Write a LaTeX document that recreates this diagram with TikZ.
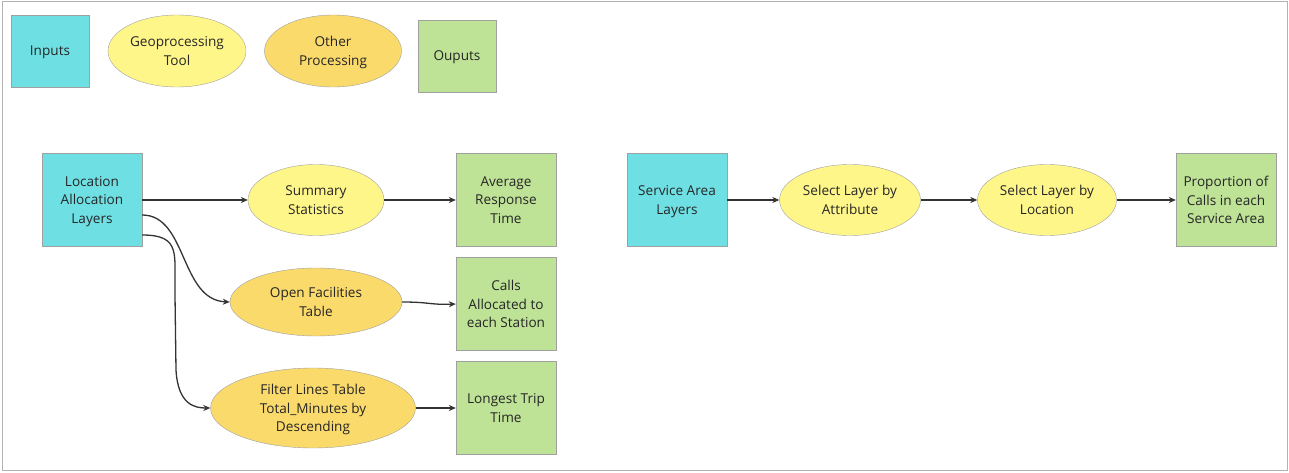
\documentclass[tikz,border=0pt]{standalone}
\usepackage{fontspec}
\setmainfont{Open Sans}
\usetikzlibrary{shapes.geometric,arrows.meta}
\definecolor{cinput}{HTML}{6EE0E4}
\definecolor{ctool}{HTML}{FFF68A}
\definecolor{cother}{HTML}{FBDA6C}
\definecolor{cout}{HTML}{BEE296}
\definecolor{cedge}{HTML}{A0A0A0}
\definecolor{carrow}{HTML}{333333}
\begin{document}
\begin{tikzpicture}[x=1pt,y=-1pt,
  every node/.style={font=\fontsize{13.6}{18.6}\selectfont, align=center, inner sep=0pt, text=black!85, text depth=0pt},
  inbox/.style={rectangle, draw=cedge, fill=cinput, minimum width=#1, minimum height=93},
  inbox/.default=100,
  outbox/.style={rectangle, draw=cedge, fill=cout, minimum width=100, minimum height=93},
  toolell/.style={ellipse, draw=cedge, fill=ctool, minimum width=#1, minimum height=71},
  otherell/.style={ellipse, draw=cedge, fill=cother, minimum width=#1, minimum height=68},
  conn/.style={draw=carrow, line width=1.3pt, -{Stealth[length=7pt,width=6pt]}}
]
\useasboundingbox (0,0) rectangle (1289,473);
\draw[cedge!80, line width=1pt] (2,2) rectangle (1287,470);

% legend
\node[rectangle, draw=cedge, fill=cinput, minimum width=78, minimum height=72] (lin) at (50,51) {Inputs};
\node[ellipse, draw=cedge, fill=ctool, minimum width=138, minimum height=72] (ltool) at (177,51) {Geoprocessing\\Tool};
\node[ellipse, draw=cedge, fill=cother, minimum width=137, minimum height=72] (lother) at (333,51) {Other\\Processing};
\node[rectangle, draw=cedge, fill=cout, minimum width=78, minimum height=72] (lout) at (457,56) {Ouputs};

% left workflow
\node[inbox] (loc) at (92,200) {Location\\Allocation\\Layers};
\node[toolell=136] (sum) at (316,200) {Summary\\Statistics};
\node[outbox] (avg) at (506,200) {Average\\Response\\Time};
\node[otherell=172] (open) at (316,302) {Open Facilities\\Table};
\node[outbox] (calls) at (506,304) {Calls\\Allocated to\\each Station};
\node[ellipse, draw=cedge, fill=cother, minimum width=205, minimum height=80] (filt) at (313,408) {Filter Lines Table\\Total\_Minutes by\\Descending};
\node[outbox] (long) at (506,408) {Longest Trip\\Time};

% right workflow
\node[inbox] (sal) at (677,200) {Service Area\\Layers};
\node[toolell=141] (sla) at (850,200) {Select Layer by\\Attribute};
\node[toolell=139] (sll) at (1047,200) {Select Layer by\\Location};
\node[outbox] (prop) at (1226,200) {Proportion of\\Calls in each\\Service Area};

% connectors
\coordinate (lo1) at ([yshift=-15]loc.east);
\coordinate (lo2) at ([yshift=-35]loc.east);
\draw[conn] (lo1) .. controls +(45,0) and (180,300) .. (open.west);
\draw[conn] (lo2) .. controls +(40,0) and (174,255) .. (175,295) -- (176,370) .. controls (178,405) and (195,408) .. (filt.west);
\draw[conn] (loc.east) -- (sum.west);
\draw[conn] (sum.east) -- (avg.west);
\draw[conn] (open.east) .. controls (430,302) and (430,305) .. (calls.west);
\draw[conn] (filt.east) -- (long.west);
\draw[conn] (sal.east) -- (sla.west);
\draw[conn] (sla.east) -- (sll.west);
\draw[conn] (sll.east) -- (prop.west);
\end{tikzpicture}
\end{document}
